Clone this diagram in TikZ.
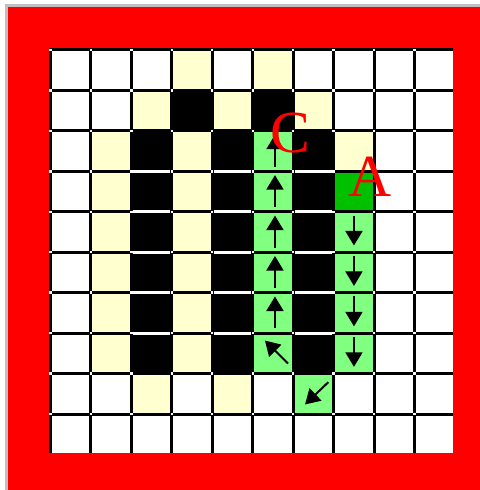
\documentclass[tikz,border=0pt]{standalone}
\usepackage{fontspec}
\setmainfont{Liberation Serif}
\usetikzlibrary{arrows.meta}
\definecolor{winred}{RGB}{255,0,0}
\definecolor{wingray}{RGB}{192,192,192}
\definecolor{cream}{RGB}{255,255,208}
\definecolor{lgreen}{RGB}{128,255,128}
\definecolor{dgreen}{RGB}{0,192,0}

\begin{document}
\begin{tikzpicture}[line width=1.4pt,>={Triangle[length=3.6mm,width=4.2mm]}]
\def\lw{0.074}
\def\sq{\fill[white]}
\useasboundingbox (-1.211,-0.915) rectangle (10.655,11.199);
% ---- window frame ----
\fill[white] (-1.211,-0.915) rectangle (10.655,11.199);
\fill[wingray] (-1.088,-0.915) rectangle (10.655,11.100);
\fill[winred] (-1.014,-0.915) rectangle (10.655,11.026);
% ---- board: 10x10 cells, black lines on top and left ----
\fill[black] (0,0) rectangle (10,10);
\foreach \i in {0,...,9}{\foreach \j in {0,...,9}{
  \sq ({\i+\lw},{9-\j}) rectangle ({\i+1},{10-\j-\lw});
}}
\foreach \i/\j in {3/0,5/0,2/1,4/1,6/1,1/2,3/2,7/2,1/3,3/3,1/4,3/4,
                   1/5,3/5,1/6,3/6,1/7,3/7,2/8,4/8}{
  \fill[cream] ({\i+\lw},{9-\j}) rectangle ({\i+1},{10-\j-\lw});
}
\foreach \i/\j in {5/2,5/3,5/4,5/5,5/6,5/7,7/4,7/5,7/6,7/7,6/8}{
  \fill[lgreen] ({\i+\lw},{9-\j}) rectangle ({\i+1},{10-\j-\lw});
}
\fill[dgreen] ({7+\lw},6) rectangle (8,{7-\lw});
% walls, with white seams between them
\fill[black] (3,8) rectangle (4,9);
\fill[black] (5,8) rectangle (6,9);
\foreach \i in {2,4,6}{
  \fill[black] (\i,2) rectangle ({\i+1},8);
  \foreach \j in {3,...,7}{
    \sq ({\i+\lw},{10-\j-\lw}) rectangle ({\i+1},{10-\j});
  }
}
% white dots where the lines cross
\foreach \i in {0,...,9}{\foreach \j in {0,...,9}{
  \sq ({\i+0.007},{10-\j-0.067}) rectangle ++(0.06,0.06);
}}
% ---- path arrows ----
\foreach \j in {2,...,6}{
  \draw[->] (5.587,{10-\j-0.92}) -- (5.587,{10-\j-0.13});
}
\foreach \j in {4,...,7}{
  \draw[->] (7.54,{10-\j-0.13}) -- (7.54,{10-\j-0.87});
}
\draw[->] (5.91,2.21) -- (5.34,2.78);
\draw[->] (6.905,1.75) -- (6.33,1.20);
% ---- labels ----
\node[text=winred,anchor=base,inner sep=0pt,font=\fontsize{42}{42}\selectfont] (labC) at (5.96,7.44) {C};
\node[text=winred,anchor=base,inner sep=0pt,font=\fontsize{42}{42}\selectfont] (labA) at (7.94,6.35) {A};
\end{tikzpicture}
\end{document}
